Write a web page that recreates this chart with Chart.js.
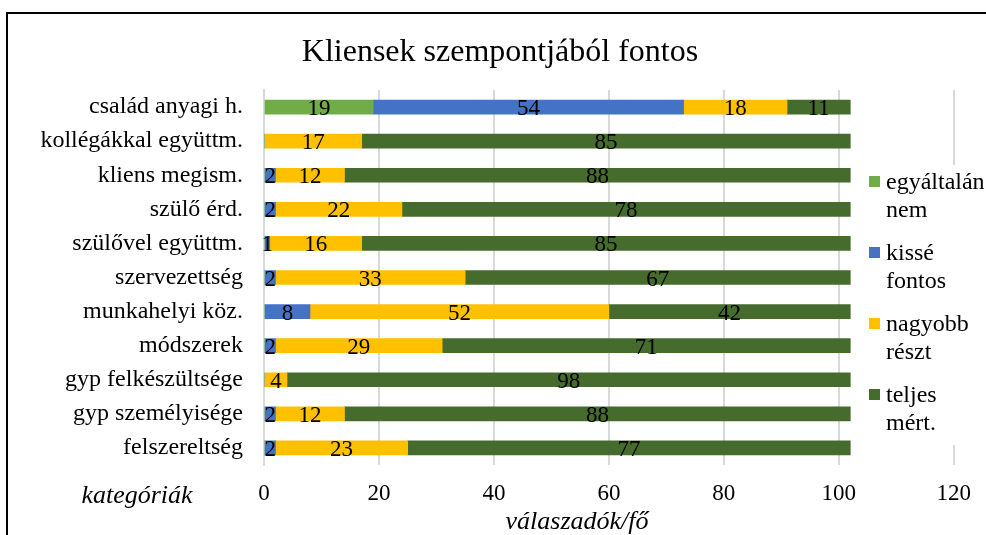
<!DOCTYPE html>
<html>
<head>
<meta charset="utf-8">
<script src="https://cdn.jsdelivr.net/npm/chart.js@4"></script>
<style>
html,body{margin:0;padding:0;background:#fff;}
canvas{display:block;}
</style>
</head>
<body>
<canvas id="c" width="986" height="535"></canvas>
<script>
const categories = ["család anyagi h.","kollégákkal együttm.","kliens megism.","szülő érd.","szülővel együttm.","szervezettség","munkahelyi köz.","módszerek","gyp felkészültsége","gyp személyisége","felszereltség"];
const egyaltalanNem = [19,0,0,0,0,0,0,0,0,0,0];
const kisseFontos   = [54,0,2,2,1,2,8,2,0,2,2];
const nagyobbReszt  = [18,17,12,22,16,33,52,29,4,12,23];
const teljesMert    = [11,85,88,78,85,67,42,71,98,88,77];
const seriesNames = [["egyáltalán","nem"],["kissé","fontos"],["nagyobb","részt"],["teljes","mért."]];
const seriesColors = ["#70AD47","#4472C4","#FFC000","#456B2D"];
const xTicks = [0,20,40,60,80,100,120];
const chartTitle = "Kliensek szempontjából fontos";
const yTitle = "kategóriák";
const xTitle = "válaszadók/fő";

const SERIF = "'Liberation Serif','Times New Roman',serif";

const extras = {
  id: 'extras',
  beforeDraw(chart){
    const ctx = chart.ctx;
    ctx.save();
    ctx.fillStyle = '#fff';
    ctx.fillRect(0,0,chart.width,chart.height);
    ctx.restore();
  },
  afterDatasetsDraw(chart){
    const ctx = chart.ctx;
    ctx.save();
    ctx.font = "23px " + SERIF;
    ctx.fillStyle = '#000';
    ctx.textAlign = 'center';
    ctx.textBaseline = 'middle';
    chart.data.datasets.forEach((ds, di) => {
      const meta = chart.getDatasetMeta(di);
      meta.data.forEach((bar, i) => {
        const v = ds.data[i];
        if (!v) return;
        const cx = (bar.x + bar.base) / 2;
        ctx.fillText(String(v), cx, bar.y + 2);
      });
    });
    ctx.restore();
  },
  afterDraw(chart){
    const ctx = chart.ctx;
    ctx.save();
    // frame
    ctx.strokeStyle = '#000';
    ctx.lineWidth = 2;
    ctx.beginPath();
    ctx.moveTo(7, 540);
    ctx.lineTo(7, 13);
    ctx.lineTo(990, 13);
    ctx.stroke();
    // title
    ctx.fillStyle = '#000';
    ctx.textAlign = 'center';
    ctx.textBaseline = 'middle';
    ctx.font = "32px " + SERIF;
    ctx.fillText(chartTitle, 500, 53);
    // axis titles
    ctx.font = "italic 26px " + SERIF;
    ctx.fillText(yTitle, 137, 496);
    ctx.fillText(xTitle, 577, 522);
    // legend
    ctx.fillStyle = '#fff';
    ctx.fillRect(864, 165, 122, 280);
    ctx.font = "24px " + SERIF;
    ctx.textAlign = 'left';
    const ys = [182, 253, 324, 395];
    const lh = 28;
    seriesNames.forEach((lines, k) => {
      ctx.fillStyle = seriesColors[k];
      ctx.fillRect(869, ys[k] - 6, 11, 11);
      ctx.fillStyle = '#000';
      lines.forEach((t, j) => ctx.fillText(t, 886, ys[k] + 1 + j * lh));
    });
    ctx.restore();
  }
};

const datasets = [egyaltalanNem, kisseFontos, nagyobbReszt, teljesMert].map((d, k) => ({
  label: seriesNames[k].join(' '),
  data: d,
  backgroundColor: seriesColors[k],
  borderWidth: 0,
  barThickness: 14
}));

new Chart(document.getElementById('c'), {
  type: 'bar',
  data: { labels: categories, datasets },
  options: {
    indexAxis: 'y',
    responsive: false,
    animation: false,
    layout: { padding: { top: 90, right: 31, left: 0, bottom: 0 } },
    plugins: {
      legend: { display: false },
      title: { display: false },
      tooltip: { enabled: false }
    },
    scales: {
      x: {
        stacked: true,
        min: 0, max: 120,
        afterBuildTicks(s){ s.ticks = xTicks.map(v => ({value: v})); },
        afterFit(s){ s.height = 70; },
        grid: { color: '#d9d9d9', lineWidth: 2, drawTicks: false },
        border: { display: false },
        ticks: { font: { family: SERIF, size: 23 }, color: '#000', padding: 15 }
      },
      y: {
        stacked: true,
        afterFit(s){ s.width = 264; },
        grid: { display: false, drawTicks: false },
        border: { display: true, color: '#d9d9d9', width: 2 },
        ticks: { font: { family: SERIF, size: 24 }, color: '#000', padding: 21 }
      }
    }
  },
  plugins: [extras]
});
</script>
</body>
</html>
